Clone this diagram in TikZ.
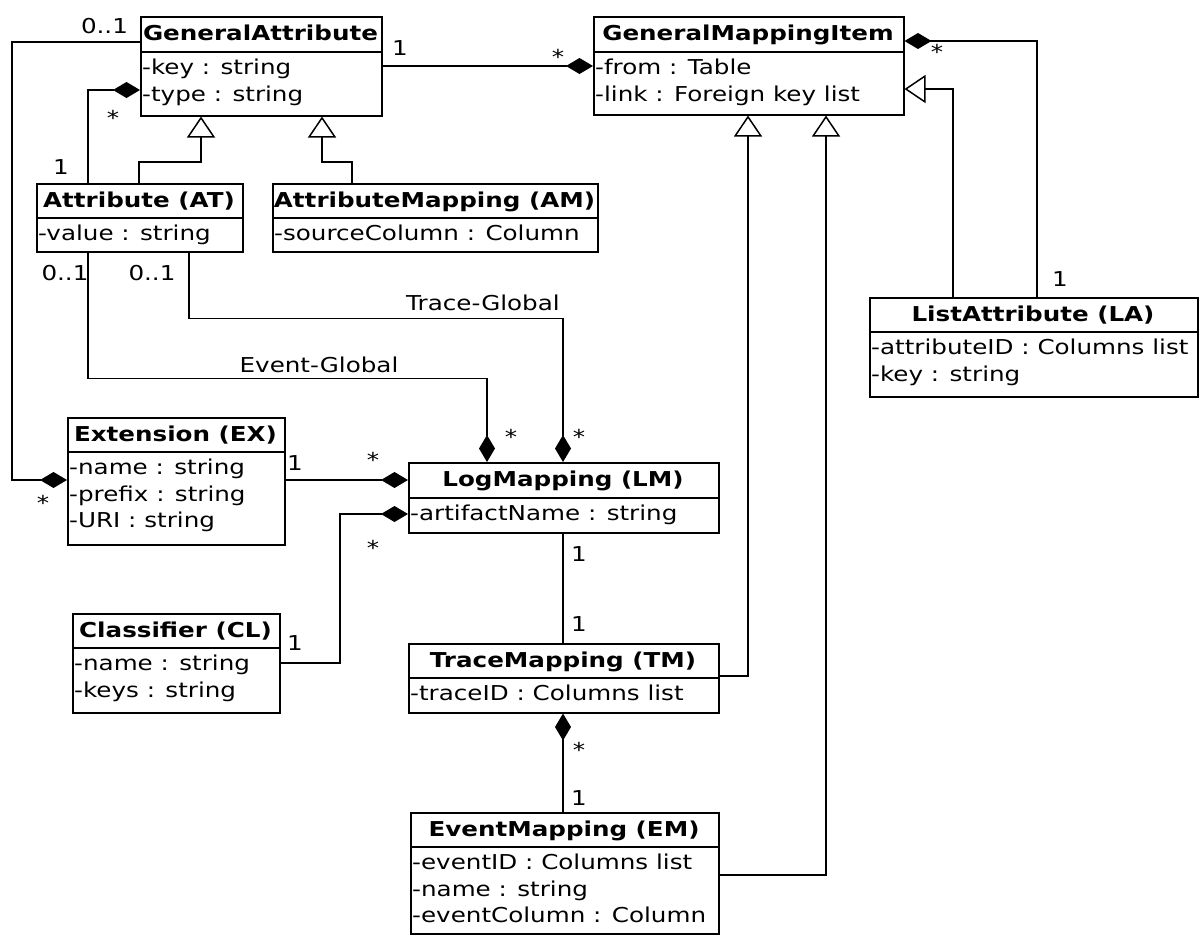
\documentclass[tikz,border=0pt]{standalone}
\usepackage{fontspec}
\setmainfont{DejaVu Sans}[FakeStretch=1.2]
\usetikzlibrary{arrows.meta,calc}
\tikzset{
  classbox/.style={draw, line width=1.5pt, inner sep=0pt},
  divline/.style={line width=1.5pt},
  titletext/.style={font=\fontsize{20.5}{24}\selectfont\bfseries, inner sep=0pt},
  rowtext/.style={font=\fontsize{20.5}{24}\selectfont, inner xsep=2pt, inner ysep=0pt},
  mult/.style={font=\fontsize{20.5}{24}\selectfont, inner sep=0pt, anchor=base},
  conn/.style={line width=1.5pt},
  compo/.style={conn, {Diamond[length=27pt,width=16pt]}-},
  compoend/.style={conn, -{Diamond[length=27pt,width=16pt]}},
  gen/.style={conn, -{Triangle[open,length=21pt,width=28pt]}},
}
% name, x1, y1, x2, y2, ydiv, title, rows
\newcommand\umlclass[8]{%
  \node[classbox, minimum width={#4pt-#2pt}, minimum height={#5pt-#3pt}, anchor=north west] (#1) at (#2,#3) {};
  \draw[divline] (#2,#6) -- (#4,#6);
  \node[titletext, anchor=base] (#1-title) at ({(#2+#4)/2},{#3+24}) {#7};
  \foreach \r [count=\i from 0] in {#8} {
    \node[rowtext, anchor=base west] (#1-r\i) at (#2,{#6+22.5+26.5*\i}) {\r};
  }
}
\begin{document}
\begin{tikzpicture}[x=1pt,y=-1pt]
\fill[white] (0,0) rectangle (1200,935);
\useasboundingbox (0,0) rectangle (1200,935);

\umlclass{ga}{140}{16}{381}{115}{52}{GeneralAttribute}{-key : string,-type : string}
\umlclass{gmi}{593}{16}{903}{114}{52}{GeneralMappingItem}{-from : Table,-link : Foreign key list}
\umlclass{at}{36}{183}{242}{251}{218}{Attribute (AT)}{-value : string}
\umlclass{am}{272}{183}{597}{251}{218}{AttributeMapping (AM)}{-sourceColumn : Column}
\umlclass{la}{869}{297}{1197}{396}{332}{ListAttribute (LA)}{-attributeID : Columns list,-key : string}
\umlclass{ex}{67}{417}{284}{544}{452}{Extension (EX)}{-name : string,-prefix : string,-URI : string}
\umlclass{cl}{72}{613}{279}{712}{648}{Classifier (CL)}{-name : string,-keys : string}
\umlclass{lm}{408}{462}{718}{532}{498}{LogMapping (LM)}{-artifactName : string}
\umlclass{tm}{408}{643}{718}{712}{678}{TraceMapping (TM)}{-traceID : Columns list}
\umlclass{em}{410}{812}{718}{933}{847}{EventMapping (EM)}{-eventID : Columns list,-name : string,-eventColumn : Column}

% GeneralAttribute -- Extension
\draw[compo] ($(ex.north west)+(0,63)$) -- ++(-55,0) |- ($(ga.north west)+(0,26)$);
\node[mult] (m1) at (104.5,33) {0..1};
\node[mult] (m2) at (43,510) {*};
% GeneralAttribute -- Attribute
\draw[compo] ($(ga.north west)+(0,74)$) -| ($(at.north west)+(52,0)$);
\node[mult] (m3) at (113,125) {*};
\node[mult] (m4) at (61,174) {1};
% generalizations to GeneralAttribute
\draw[gen] ($(at.north west)+(103,0)$) -- ++(0,-21) -| ($(ga.south west)+(61,0)$);
\draw[gen] ($(am.north west)+(80,0)$) -- ++(0,-21) -| ($(ga.south west)+(182,0)$);
% GeneralAttribute -- GeneralMappingItem
\draw[compoend] ($(ga.north east)+(0,50)$) -- ($(gmi.north west)+(0,50)$);
\node[mult] (m5) at (400,55) {1};
\node[mult] (m6) at (558,64) {*};
% GeneralMappingItem -- ListAttribute
\draw[compo] ($(gmi.north east)+(0,25)$) -| ($(la.north west)+(168,0)$);
\node[mult] (m7) at (937,59) {*};
\node[mult] (m8) at (1060,286) {1};
\draw[gen] ($(la.north west)+(84,0)$) |- ($(gmi.north east)+(0,73)$);
% TraceMapping, EventMapping generalizations
\draw[gen] ($(tm.north east)+(0,33)$) -| ($(gmi.south west)+(155,0)$);
\draw[gen] ($(em.north east)+(0,63)$) -| ($(gmi.south west)+(233,0)$);
% Attribute -- LogMapping
\draw[compoend] ($(at.south west)+(52,0)$) -- ++(0,126) -| ($(lm.north west)+(79,0)$);
\draw[compoend] ($(at.south west)+(153,0)$) -- ++(0,66) -| ($(lm.north west)+(155,0)$);
\node[mult] (m9) at (65,280) {0..1};
\node[mult] (m10) at (152,280) {0..1};
\node[mult] (lt) at (483,310) {Trace-Global};
\node[mult] (le) at (319,372) {Event-Global};
\node[mult] (m11) at (511,444) {*};
\node[mult] (m12) at (579,444) {*};
% Extension -- LogMapping
\draw[compoend] ($(ex.north east)+(0,63)$) -- ($(lm.north west)+(0,18)$);
\node[mult] (m13) at (295,470) {1};
\node[mult] (m14) at (373,467) {*};
% Classifier -- LogMapping
\draw[compo] ($(lm.north west)+(0,52)$) -- ++(-68,0) |- ($(cl.north east)+(0,50)$);
\node[mult] (m15) at (373,555) {*};
\node[mult] (m16) at (295,650) {1};
% LogMapping -- TraceMapping
\draw[conn] ($(lm.south west)+(155,0)$) -- ($(tm.north west)+(155,0)$);
\node[mult] (m17) at (579,561) {1};
\node[mult] (m18) at (579,631) {1};
% TraceMapping -- EventMapping
\draw[compo] ($(tm.south west)+(155,0)$) -- ($(em.north west)+(153,0)$);
\node[mult] (m19) at (579,757) {*};
\node[mult] (m20) at (579,805) {1};
\end{tikzpicture}
\end{document}
